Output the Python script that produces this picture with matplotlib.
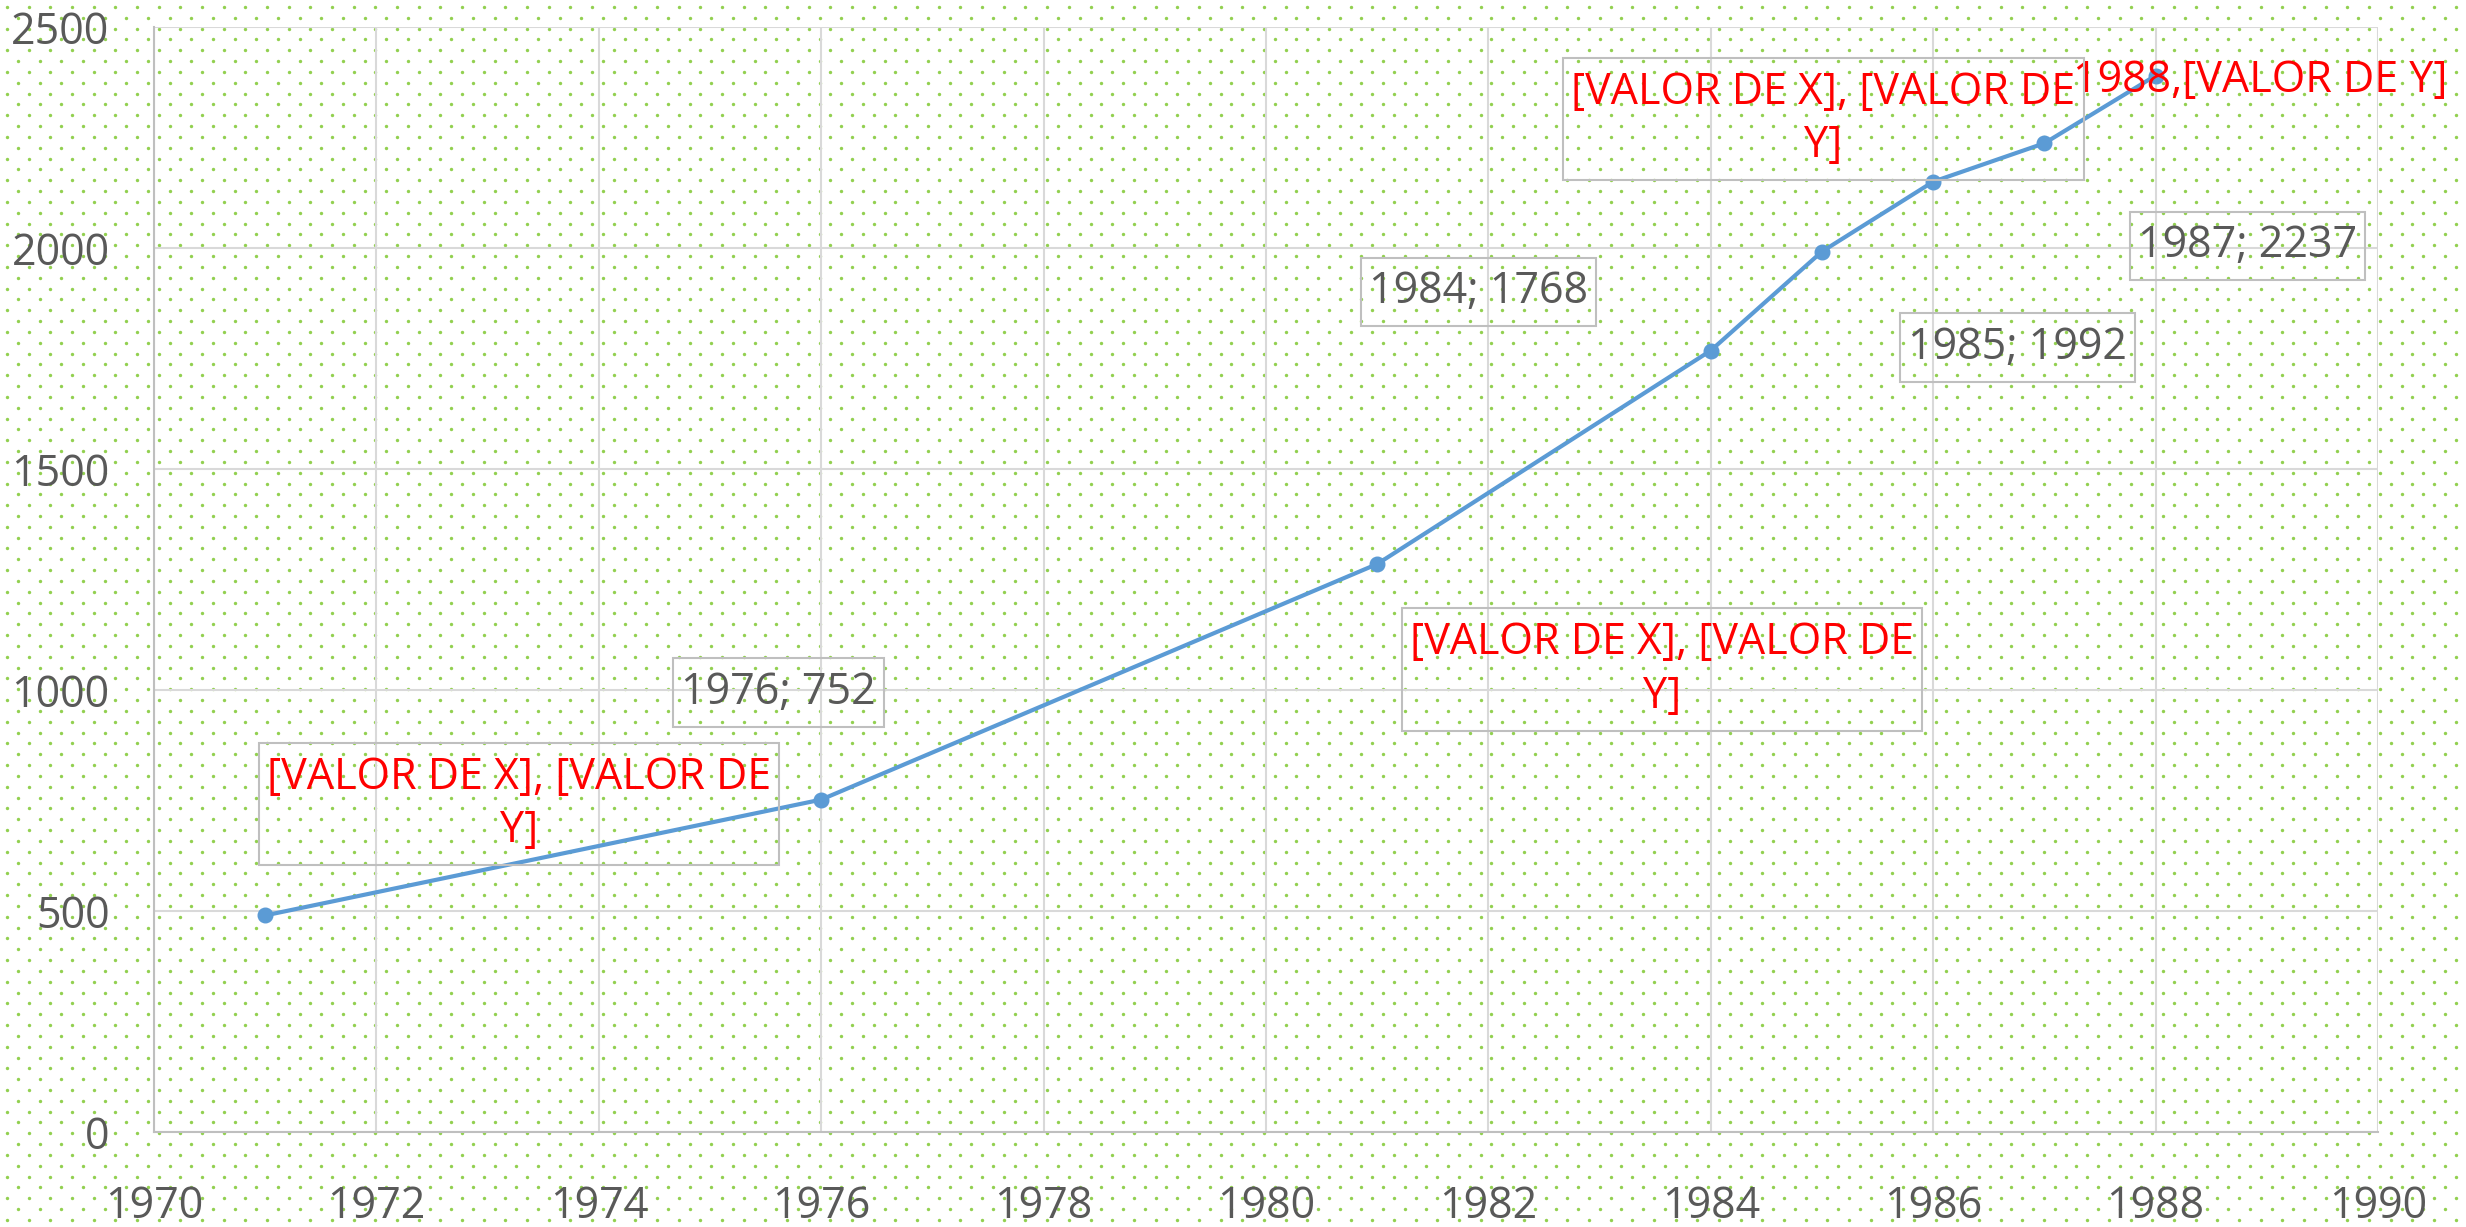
import numpy as np
import matplotlib
matplotlib.use("Agg")
import matplotlib.pyplot as plt
from matplotlib.patches import Rectangle
from matplotlib.transforms import IdentityTransform

plt.rcParams['font.family'] = ['Open Sans', 'DejaVu Sans']

# ---- data ----
years = [1971, 1976, 1981, 1984, 1985, 1986, 1987, 1988]
values = [490, 752, 1285, 1768, 1992, 2150, 2237, 2390]
red_txt = "[VALOR DE X], [VALOR DE\nY]"
point_labels = [red_txt, "1976; 752", red_txt, "1984; 1768", "1985; 1992",
                red_txt, "1987; 2237", "1988,[VALOR DE Y]"]
label_is_red = [True, False, True, False, False, True, False, True]
label_has_box = [True, True, True, True, True, True, True, False]
x_ticks = list(range(1970, 1991, 2))
y_ticks = [0, 500, 1000, 1500, 2000, 2500]

# ---- layout / style ----
label_offsets_pt = [(183, 80), (-31, 77), (205, -76), (-167, 42), (141, -69),
                    (-79, 45), (146, -74), (75, -4)]
W, H = 2466, 1227
FS = 31
LINE_C = '#5B9BD5'
TXT_C = '#595959'
GRID_C = '#D9D9D9'
DOT_C = '#92D050'
BOX_C = '#BFBFBF'
PADX, PADY = 8, 12   # pixels around text extent for label boxes

fig = plt.figure(figsize=(W / 100, H / 100), dpi=100)
fig.patch.set_facecolor('white')

# dotted background pattern (decoration)
bg = fig.add_axes([0, 0, 1, 1], zorder=-1)
bg.set_xlim(0, W)
bg.set_ylim(H, 0)
bg.axis('off')
row_step, col_step = 10.83, 21.67
rows = np.arange(7, H, row_step)
dx, dy = [], []
for k, yy in enumerate(rows):
    xs = np.arange(7 + (k % 2) * col_step / 2, W, col_step)
    dx.extend(xs)
    dy.extend([yy] * len(xs))
bg.scatter(dx, dy, s=6, color=DOT_C, linewidths=0)

ax = fig.add_axes([154 / W, 95 / H, (2378 - 154) / W, (1132 - 27) / H], zorder=1)
ax.set_facecolor('none')
ax.set_xlim(1970, 1990)
ax.set_ylim(0, 2500)
ax.set_xticks(x_ticks)
ax.set_yticks(y_ticks)
ax.grid(True, color=GRID_C, lw=1.5, zorder=0)
ax.set_axisbelow(True)
for s in ['top', 'right']:
    ax.spines[s].set_visible(False)
for s in ['left', 'bottom']:
    ax.spines[s].set_color(BOX_C)
    ax.spines[s].set_linewidth(1.5)
ax.tick_params(length=0, labelsize=FS, labelcolor=TXT_C)
ax.tick_params(axis='y', pad=32)
ax.tick_params(axis='x', pad=38)

ax.plot(years, values, color=LINE_C, lw=3.0, marker='o', markersize=10.5,
        zorder=3, clip_on=False)

texts = []
for x, y, lab, red, box, off in zip(years, values, point_labels, label_is_red,
                                     label_has_box, label_offsets_pt):
    t = ax.annotate(lab, xy=(x, y), xytext=off, textcoords='offset points',
                    ha='center', va='center', multialignment='center',
                    fontsize=FS, color='#FF0000' if red else TXT_C,
                    linespacing=1.28, zorder=4, annotation_clip=False)
    texts.append((t, box))

fig.canvas.draw()
renderer = fig.canvas.get_renderer()
for t, box in texts:
    if not box:
        continue
    bb = t.get_window_extent(renderer)
    rect = Rectangle((bb.x0 - PADX, bb.y0 - PADY), bb.width + 2 * PADX,
                     bb.height + 2 * PADY, transform=IdentityTransform(),
                     fill=False, ec=BOX_C, lw=1.5, zorder=2)
    fig.add_artist(rect)

fig.savefig('out.png', dpi=100)
